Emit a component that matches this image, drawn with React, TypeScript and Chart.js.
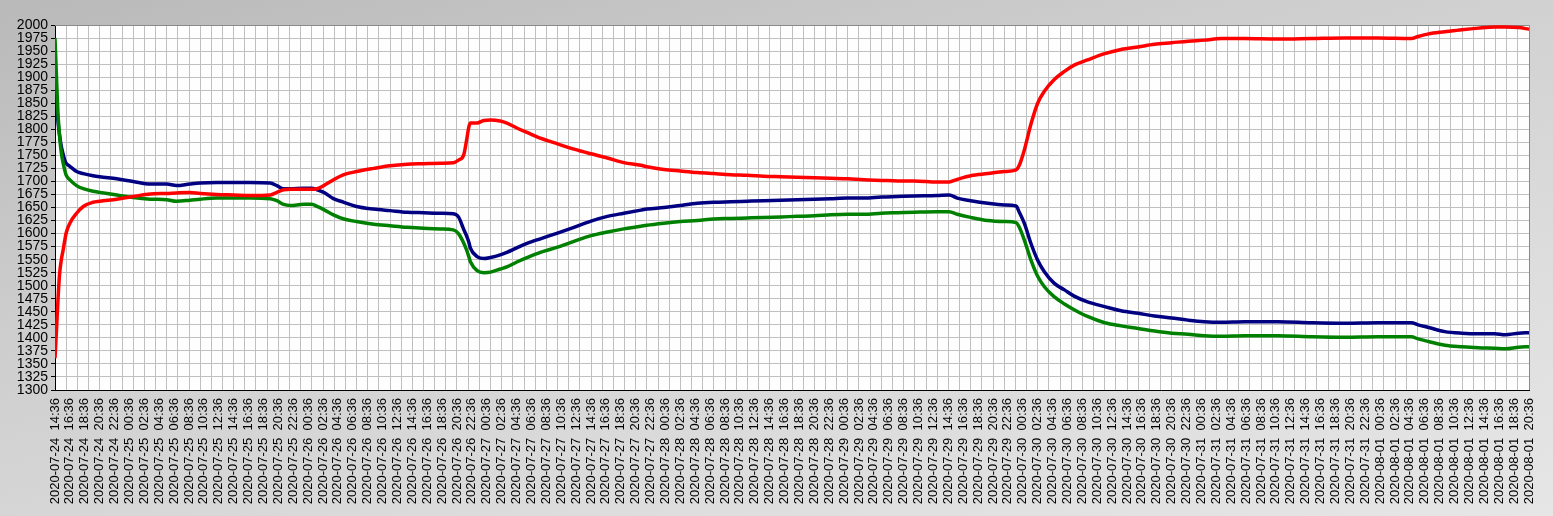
import React, { useEffect, useRef } from 'react';
import { Chart, registerables } from 'chart.js';

Chart.register(...registerables);

// Hours elapsed since 2020-07-24 14:36
const HOURS = [
  0, 0.2, 0.4, 0.6, 0.85, 1.1, 1.3, 1.5, 2.0, 2.9, 3.8, 5.1, 6.0, 8.3, 10.5, 12.8, 15.0, 16.3, 18.1, 19.5, 21.7, 24.0, 26.2, 28.9, 29.8, 30.7, 31.6, 33.4, 34.5, 35.2, 36.1, 37.4, 38.8,
  40.5, 42.8, 45.0, 47.3, 49.5, 51.8, 53.5, 54.2, 54.9, 55.3, 55.6, 55.8, 56.7, 57.6, 58.5, 59.8, 60.7, 62.1, 63.4, 65.2, 67.5, 69.7, 72.0, 74.2, 76.4, 78.7,
  79.5, 81.8, 84.0, 86.3, 88.5, 90.8, 93.0, 95.2, 97.5, 99.7, 102.0, 104.2, 106.5, 108.7, 111.0, 113.2, 115.4,
  118.5, 120.1, 121.2, 123.0, 125.3, 127.5, 129.1, 129.5, 130.2, 131.1, 132.0, 132.9, 134.2, 135.6, 136.9, 138.7, 141.0, 143.2, 145.5, 147.7, 150.0, 152.2, 154.4, 156.7,
  159.8, 164.3, 168.8, 173.2, 177.7, 182.2, 183.1, 184.5, 186.7, 189.0, 191.2, 193.4, 194.8, 196.6, 198,
];

const RED_VALUES = [
  1361, 1415, 1473, 1520, 1550, 1569, 1586, 1601, 1620, 1639, 1652, 1660, 1662, 1666, 1671, 1676, 1677, 1678, 1679, 1677, 1675, 1674, 1673, 1674, 1679, 1684, 1685, 1685, 1685, 1686, 1692, 1703, 1713,
  1719, 1725, 1730, 1733, 1734, 1735, 1736, 1741, 1751, 1780, 1805, 1812, 1812, 1817, 1818, 1816, 1812, 1802, 1794, 1783, 1772, 1762, 1753, 1745, 1736, 1731,
  1728, 1723, 1720, 1717, 1715, 1713, 1712, 1710, 1709, 1708, 1707, 1706, 1705, 1703, 1702, 1701, 1701,
  1699, 1699, 1704, 1711, 1715, 1719, 1722, 1730, 1760, 1810, 1850, 1873, 1895, 1911, 1923, 1933, 1945, 1953, 1958, 1963, 1966, 1969, 1971, 1974,
  1974, 1973, 1974, 1975, 1975, 1974, 1978, 1983, 1987, 1991, 1994, 1996, 1996, 1995, 1992,
];

const NAVY_VALUES = [
  1880, 1850, 1815, 1790, 1767, 1752, 1741, 1735, 1729, 1719, 1715, 1711, 1709, 1705, 1700, 1695, 1695, 1692, 1695, 1697, 1698, 1698, 1698, 1697, 1692, 1686, 1686, 1687, 1687, 1684, 1679, 1667, 1660,
  1652, 1647, 1644, 1641, 1640, 1639, 1638, 1632, 1608, 1595, 1583, 1572, 1556, 1552, 1554, 1559, 1564, 1573, 1581, 1590, 1601, 1612, 1624, 1633, 1639, 1645,
  1647, 1650, 1654, 1658, 1660, 1661, 1662, 1663, 1664, 1665, 1666, 1667, 1668, 1668, 1670, 1671, 1672,
  1673, 1674, 1668, 1663, 1658, 1655, 1653, 1642, 1620, 1581, 1549, 1527, 1505, 1492, 1480, 1469, 1460, 1452, 1447, 1442, 1438, 1434, 1431, 1430,
  1431, 1431, 1429, 1428, 1429, 1429, 1425, 1420, 1412, 1409, 1408, 1408, 1406, 1409, 1410,
];

const GREEN_VALUES = [
  1975, 1900, 1830, 1790, 1755, 1735, 1722, 1712, 1703, 1692, 1686, 1681, 1679, 1674, 1669, 1666, 1665, 1662, 1664, 1666, 1668, 1668, 1668, 1667, 1663, 1656, 1654, 1656, 1656, 1652, 1646, 1636, 1628,
  1623, 1618, 1615, 1612, 1610, 1609, 1607, 1600, 1582, 1568, 1555, 1546, 1529, 1525, 1526, 1532, 1536, 1546, 1554, 1564, 1574, 1585, 1596, 1603, 1609, 1614,
  1616, 1620, 1623, 1625, 1628, 1629, 1630, 1631, 1632, 1633, 1634, 1636, 1637, 1637, 1639, 1640, 1641,
  1642, 1642, 1637, 1631, 1625, 1623, 1621, 1613, 1588, 1549, 1518, 1498, 1479, 1465, 1454, 1441, 1429, 1423, 1418, 1413, 1409, 1407, 1404, 1403,
  1404, 1404, 1402, 1401, 1402, 1402, 1398, 1393, 1386, 1383, 1381, 1380, 1379, 1382, 1383,
];

const TICK_LABELS = [
  '2020-07-24  14:36', '2020-07-24  16:36', '2020-07-24  18:36', '2020-07-24  20:36', '2020-07-24  22:36',
  '2020-07-25  00:36', '2020-07-25  02:36', '2020-07-25  04:36', '2020-07-25  06:36', '2020-07-25  08:36', '2020-07-25  10:36',
  '2020-07-25  12:36', '2020-07-25  14:36', '2020-07-25  16:36', '2020-07-25  18:36', '2020-07-25  20:36', '2020-07-25  22:36',
  '2020-07-26  00:36', '2020-07-26  02:36', '2020-07-26  04:36', '2020-07-26  06:36', '2020-07-26  08:36', '2020-07-26  10:36',
  '2020-07-26  12:36', '2020-07-26  14:36', '2020-07-26  16:36', '2020-07-26  18:36', '2020-07-26  20:36', '2020-07-26  22:36',
  '2020-07-27  00:36', '2020-07-27  02:36', '2020-07-27  04:36', '2020-07-27  06:36', '2020-07-27  08:36', '2020-07-27  10:36',
  '2020-07-27  12:36', '2020-07-27  14:36', '2020-07-27  16:36', '2020-07-27  18:36', '2020-07-27  20:36', '2020-07-27  22:36',
  '2020-07-28  00:36', '2020-07-28  02:36', '2020-07-28  04:36', '2020-07-28  06:36', '2020-07-28  08:36', '2020-07-28  10:36',
  '2020-07-28  12:36', '2020-07-28  14:36', '2020-07-28  16:36', '2020-07-28  18:36', '2020-07-28  20:36', '2020-07-28  22:36',
  '2020-07-29  00:36', '2020-07-29  02:36', '2020-07-29  04:36', '2020-07-29  06:36', '2020-07-29  08:36', '2020-07-29  10:36',
  '2020-07-29  12:36', '2020-07-29  14:36', '2020-07-29  16:36', '2020-07-29  18:36', '2020-07-29  20:36', '2020-07-29  22:36',
  '2020-07-30  00:36', '2020-07-30  02:36', '2020-07-30  04:36', '2020-07-30  06:36', '2020-07-30  08:36', '2020-07-30  10:36',
  '2020-07-30  12:36', '2020-07-30  14:36', '2020-07-30  16:36', '2020-07-30  18:36', '2020-07-30  20:36', '2020-07-30  22:36',
  '2020-07-31  00:36', '2020-07-31  02:36', '2020-07-31  04:36', '2020-07-31  06:36', '2020-07-31  08:36', '2020-07-31  10:36',
  '2020-07-31  12:36', '2020-07-31  14:36', '2020-07-31  16:36', '2020-07-31  18:36', '2020-07-31  20:36', '2020-07-31  22:36',
  '2020-08-01  00:36', '2020-08-01  02:36', '2020-08-01  04:36', '2020-08-01  06:36', '2020-08-01  08:36', '2020-08-01  10:36',
  '2020-08-01  12:36', '2020-08-01  14:36', '2020-08-01  16:36', '2020-08-01  18:36', '2020-08-01  20:36',
];

const LABEL_STEP_HOURS = 2;
const GRID_STEP_HOURS = 1.5;
const X_MAX_HOURS = 198;
const Y_MIN = 1300;
const Y_MAX = 2000;
const Y_STEP = 25;

const FONT_FAMILY = '"Liberation Sans", Arial, sans-serif';

const toPoints = (vals: number[]) => HOURS.map((h, i) => ({ x: h, y: vals[i] }));

const plotFrame = {
  id: 'plotFrame',
  beforeDraw(chart: any) {
    const { ctx, chartArea } = chart;
    ctx.save();
    ctx.fillStyle = '#fdfefd';
    ctx.fillRect(chartArea.left, chartArea.top, chartArea.right - chartArea.left, chartArea.bottom - chartArea.top);
    ctx.restore();
  },
  beforeDatasetsDraw(chart: any) {
    const { ctx, chartArea } = chart;
    ctx.save();
    ctx.strokeStyle = '#8a8a8a';
    ctx.lineWidth = 1;
    ctx.beginPath();
    ctx.moveTo(chartArea.left, chartArea.top + 0.5);
    ctx.lineTo(chartArea.right + 0.5, chartArea.top + 0.5);
    ctx.lineTo(chartArea.right + 0.5, chartArea.bottom);
    ctx.stroke();
    ctx.restore();
  },
};

export default function App() {
  const canvasRef = useRef<HTMLCanvasElement | null>(null);

  useEffect(() => {
    if (!canvasRef.current) return;
    Chart.defaults.font.family = FONT_FAMILY;
    const chart = new Chart(canvasRef.current, {
      type: 'line',
      data: {
        datasets: [
          { label: 'red', data: toPoints(RED_VALUES), borderColor: '#ff0000', xAxisID: 'x', yAxisID: 'y' },
          { label: 'green', data: toPoints(GREEN_VALUES), borderColor: '#008000', xAxisID: 'x', yAxisID: 'y' },
          { label: 'navy', data: toPoints(NAVY_VALUES), borderColor: '#000080', xAxisID: 'x', yAxisID: 'y' },
        ].map((d) => ({
          ...d,
          borderWidth: 3.5,
          pointRadius: 0,
          fill: false,
          cubicInterpolationMode: 'monotone' as const,
        })),
      },
      plugins: [plotFrame],
      options: {
        responsive: false,
        animation: false,
        events: [],
        layout: { padding: { top: 25, right: 24, left: 0, bottom: 0 } },
        plugins: { legend: { display: false }, tooltip: { enabled: false } },
        scales: {
          x: {
            type: 'linear',
            position: 'bottom',
            min: 0,
            max: X_MAX_HOURS,
            afterBuildTicks: (scale: any) => {
              scale.ticks = TICK_LABELS.map((_, i) => ({ value: i * LABEL_STEP_HOURS }));
            },
            afterFit: (scale: any) => {
              scale.height = 126;
            },
            ticks: {
              autoSkip: false,
              minRotation: 90,
              maxRotation: 90,
              padding: 8,
              color: '#000',
              font: { family: FONT_FAMILY, size: 13 },
              callback: (_v: any, i: number) => TICK_LABELS[i],
            },
            grid: { display: false, drawTicks: false },
            border: { display: true, color: '#000', width: 1 },
          },
          xg: {
            type: 'linear',
            position: 'bottom',
            min: 0,
            max: X_MAX_HOURS,
            afterBuildTicks: (scale: any) => {
              const t: { value: number }[] = [];
              for (let v = 0; v <= X_MAX_HOURS + 1e-9; v += GRID_STEP_HOURS) t.push({ value: v });
              scale.ticks = t;
            },
            afterFit: (scale: any) => {
              scale.height = 0;
            },
            ticks: { display: false },
            grid: { color: '#c0c0c0', lineWidth: 1, drawTicks: false },
            border: { display: false },
          },
          y: {
            type: 'linear',
            min: Y_MIN,
            max: Y_MAX,
            afterFit: (scale: any) => {
              scale.width = 55;
            },
            ticks: {
              stepSize: Y_STEP,
              autoSkip: false,
              padding: 3,
              color: '#000',
              font: { family: FONT_FAMILY, size: 14 },
              callback: (v: any) => String(v),
            },
            grid: { color: '#c0c0c0', lineWidth: 1, tickColor: '#000', tickLength: 4 },
            border: { display: true, color: '#000', width: 1 },
          },
        },
      } as any,
    });
    return () => chart.destroy();
  }, []);

  return (
    <div
      style={{
        position: 'fixed',
        left: 0,
        top: 0,
        width: 1553,
        height: 516,
        background: 'linear-gradient(165deg, #b9b9b9 0%, #cdcdcd 35%, #dedede 75%, #e6e6e6 100%)',
      }}
    >
      <canvas ref={canvasRef} width={1553} height={516} style={{ display: 'block' }} />
    </div>
  );
}
